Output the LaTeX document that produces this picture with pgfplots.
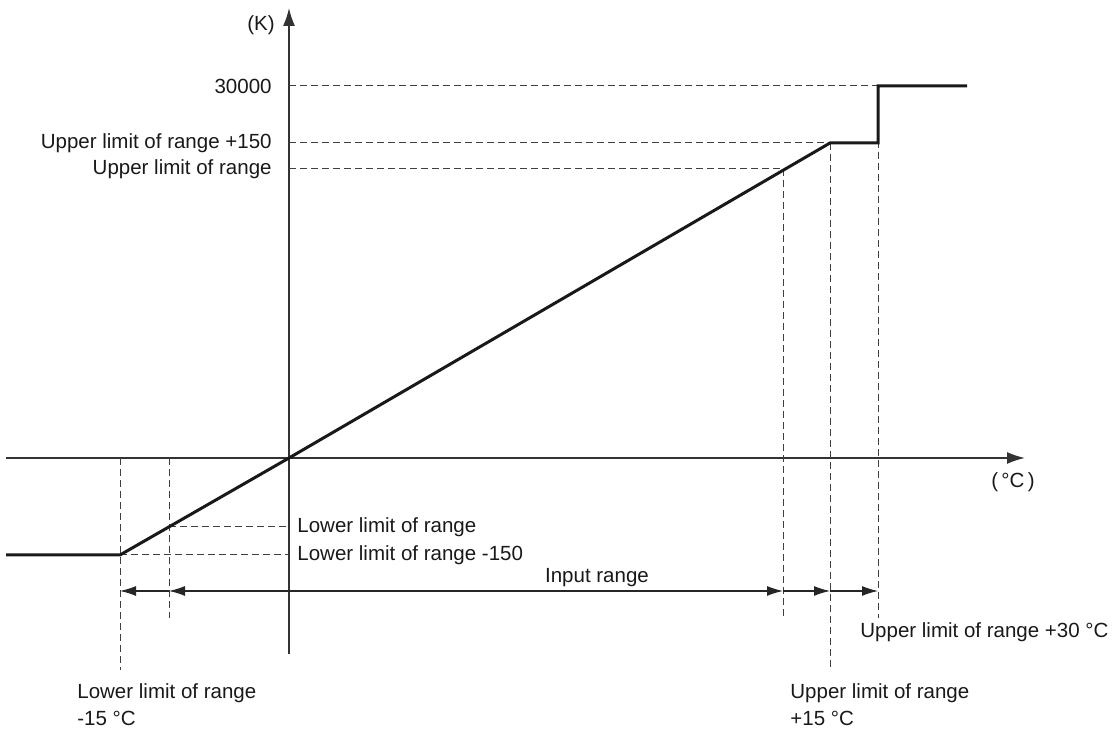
\documentclass[border=0pt]{standalone}
\usepackage{fontspec}
\setmainfont{Liberation Sans}
\usepackage{pgfplots}
\pgfplotsset{compat=1.18}
\usetikzlibrary{arrows.meta}
\tikzset{lbl/.style={font=\fontsize{10.25}{12}\selectfont, inner sep=0pt, text=black!90},
 dsh/.style={line width=0.5pt, black!75, dash pattern=on 3.3pt off 2.2pt},
 arr/.style={line width=0.55pt, black!85}}
\begin{document}
\begin{tikzpicture}
\begin{axis}[
 x=0.5pt, y=0.5pt,
 xmin=-283, xmax=736, ymin=-196, ymax=450,
 axis lines=middle,
 xtick=\empty, ytick=\empty,
 clip=false,
 axis line style={line width=0.8pt, black!80, -{Latex[length=9pt,width=6pt]}},
 every axis plot/.append style={mark=none},
 ]
% bounding box of the whole figure
\path (axis cs:-289,-273) rectangle (axis cs:826,458);
% dashed guide lines
\addplot[dsh] coordinates {(0,372) (589,372)};
\addplot[dsh] coordinates {(0,315) (541,315)};
\addplot[dsh] coordinates {(0,289) (494,289)};
\addplot[dsh] coordinates {(494,289) (494,-160)};
\addplot[dsh] coordinates {(541,315) (541,-211)};
\addplot[dsh] coordinates {(589,372) (589,-160)};
\addplot[dsh] coordinates {(-169,0) (-169,-212)};
\addplot[dsh] coordinates {(-120,0) (-120,-160)};
\addplot[dsh] coordinates {(-120,-69) (0,-69)};
\addplot[dsh] coordinates {(-169,-97) (0,-97)};
% range arrows
\addplot[arr, -{Latex[length=8pt,width=5pt]}] coordinates {(-120,-133) (-169,-133)};
\addplot[arr, {Latex[length=8pt,width=5pt]}-{Latex[length=8pt,width=5pt]}] coordinates {(-120,-133) (494,-133)};
\addplot[arr, -{Latex[length=8pt,width=5pt]}] coordinates {(494,-133) (541,-133)};
\addplot[arr, -{Latex[length=8pt,width=5pt]}] coordinates {(541,-133) (589,-133)};
% characteristic
\addplot[line width=1.5pt, black!90] coordinates {(-283,-97) (-169,-97) (0,0) (541,315) (589,315) (589,372) (678,372)};
% labels
\node[lbl, anchor=east] at (axis cs:-14,433) {(K)};
\node[lbl, anchor=east] at (axis cs:-17,372) {30000};
\node[lbl, anchor=east] at (axis cs:-17,315) {Upper limit of range +150};
\node[lbl, anchor=east] at (axis cs:-17,289) {Upper limit of range};
\node[lbl, anchor=center] at (axis cs:724,-24) {(\,°C\,)};
\node[lbl, anchor=west] at (axis cs:8,-69) {Lower limit of range};
\node[lbl, anchor=west] at (axis cs:8,-97) {Lower limit of range -150};
\node[lbl, anchor=center] at (axis cs:308,-120) {Input range};
\node[lbl, anchor=west] at (axis cs:571,-174) {Upper limit of range +30 °C};
\node[lbl, anchor=west] at (axis cs:501,-235) {Upper limit of range};
\node[lbl, anchor=west] at (axis cs:501,-260) {+15 °C};
\node[lbl, anchor=west] at (axis cs:-212,-235) {Lower limit of range};
\node[lbl, anchor=west] at (axis cs:-212,-260) {-15 °C};
\end{axis}
\end{tikzpicture}
\end{document}
